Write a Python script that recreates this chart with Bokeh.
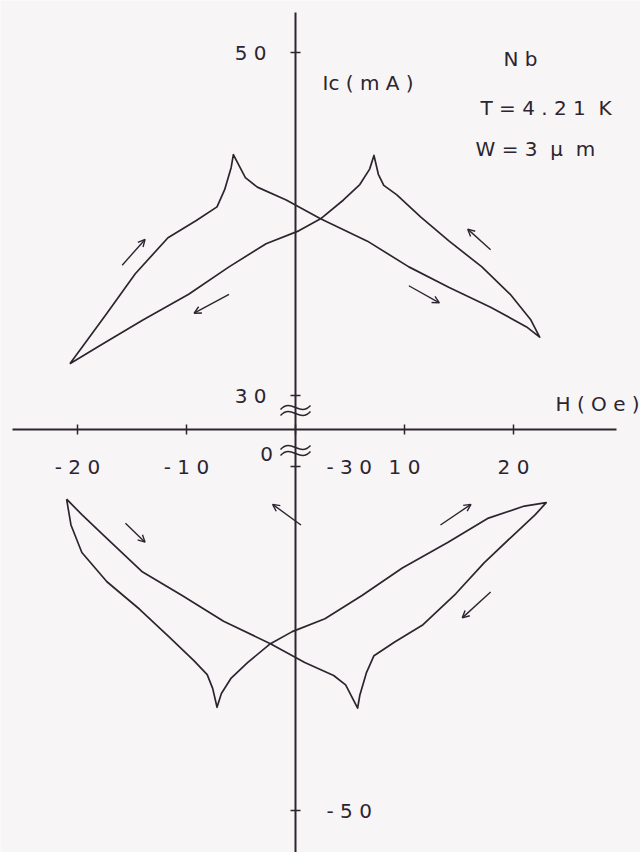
from bokeh.plotting import figure
from bokeh.models import Range1d, LinearAxis, FixedTicker, Arrow, OpenHead, Label, ColumnDataSource
from bokeh.embed import file_html
from bokeh.resources import INLINE

# ---------------- data: Ic(H) of a Nb strip, T = 4.21 K, W = 3 um ----------------
# positive-current loop: left tip -> left peak -> right tip -> right peak -> left tip
UPPER_H = [-20.7, -19.6, -17.3, -14.7, -11.7, -9.1, -7.2, -6.5, -5.9, -5.7,
           -4.6, -3.5, -0.85, 2.3, 6.6, 10.4, 14.1, 17.9, 21.2, 22.4,
           21.6, 19.7, 17.1, 14.1, 11.5, 9.3, 8.1, 7.6, 7.2,
           6.8, 5.9, 4.4, 2.3, 0.3, -2.7, -6.1, -9.8, -14.0, -17.7, -20.7]
UPPER_IC = [31.85, 32.8, 34.8, 37.1, 39.2, 40.2, 41.0, 42.0, 43.3, 44.05,
            42.7, 42.15, 41.4, 40.3, 39.0, 37.5, 36.3, 35.15, 34.0, 33.4,
            34.4, 35.9, 37.5, 39.0, 40.4, 41.7, 42.25, 42.9, 44.0,
            43.2, 42.3, 41.4, 40.3, 39.6, 38.85, 37.5, 35.9, 34.4, 33.0, 31.85]

# negative-current loop: left tip -> left dip -> right tip -> right dip -> left tip
LOWER_H = [-21.0, -20.6, -19.6, -17.3, -14.3, -11.6, -9.3, -8.1, -7.6, -7.2,
           -6.8, -5.9, -4.4, -2.3, -0.3, 2.7, 6.1, 9.8, 14.0, 17.7, 21.0, 23.0,
           22.0, 19.8, 17.3, 14.7, 11.7, 9.1, 7.2, 6.5, 5.9, 5.7,
           4.6, 3.5, 0.85, -2.3, -6.6, -10.4, -14.1, -17.6, -19.6, -21.0]
LOWER_IC = [-31.9, -33.4, -35.0, -36.7, -38.3, -39.9, -41.3, -42.1, -42.9, -44.0,
            -43.2, -42.3, -41.4, -40.3, -39.6, -38.85, -37.5, -35.9, -34.4, -33.0, -32.3, -32.1,
            -32.8, -34.1, -35.6, -37.4, -39.2, -40.2, -41.0, -42.0, -43.3, -44.05,
            -42.7, -42.15, -41.4, -40.3, -39.0, -37.5, -36.1, -34.0, -32.8, -31.9]

# sweep-direction arrows (start H, start Ic, end H, end Ic)
UP_ARROW_H0 = [-15.9, -6.1, 10.4, 17.9]
UP_ARROW_I0 = [37.6, 35.9, 36.4, 38.5]
UP_ARROW_H1 = [-13.8, -9.3, 13.2, 15.8]
UP_ARROW_I1 = [39.1, 34.8, 35.4, 39.7]
LO_ARROW_H0 = [-15.6, 0.5, 13.3, 17.9]
LO_ARROW_I0 = [-33.3, -33.4, -33.4, -37.3]
LO_ARROW_H1 = [-13.8, -2.1, 16.1, 15.3]
LO_ARROW_I1 = [-34.4, -32.2, -32.2, -38.8]

H_TICKS = [-20, -10, 0, 10, 20]
H_TICK_LABELS = ["- 2 0", "- 1 0", "", "1 0", "2 0"]
UPPER_TICKS = [30, 50]
UPPER_TICK_LABELS = ["3 0", "5 0"]
LOWER_TICKS = [-50, -30]
LOWER_TICK_LABELS = ["- 5 0", "- 3 0"]

# ---------------- layout ----------------
W, HT = 640, 852
X_ZERO_PX, PX_PER_OE = 295, 10.9
H_AXIS_PX = 429
INK = "#2c2530"
BG = "#f8f5f6"
FONT = "DejaVu Sans"
FS = "20px"
NBSP = "\u00a0"


def vrange(v1, p1, v2, p2):
    """Range whose value v1 sits p1 px from the top and v2 sits p2 px from the top."""
    k = (v1 - v2) / (p2 - p1)
    return Range1d(v1 - (HT - p1) * k, v1 + p1 * k)


def at_px(rng, px):
    k = (rng.end - rng.start) / HT
    return rng.end - px * k


upper_range = vrange(50, 52, 30, 395)
lower_range = vrange(-30, 466, -50, 810)
x_range = Range1d(-X_ZERO_PX / PX_PER_OE, (W - X_ZERO_PX) / PX_PER_OE)
base_range = Range1d(-(HT - H_AXIS_PX), H_AXIS_PX)   # pixel units, 0 on the field axis


def sx(px):
    return (px - X_ZERO_PX) / PX_PER_OE


def sy(px):
    return H_AXIS_PX - px


p = figure(width=W, height=HT, x_range=x_range, y_range=base_range,
           x_axis_type=None, y_axis_type=None, output_backend="svg",
           toolbar_location=None, min_border=0, outline_line_color=None,
           background_fill_color=BG, border_fill_color=BG)
p.extra_y_ranges = {"upper": upper_range, "lower": lower_range}


def style(ax, standoff):
    ax.axis_line_color = INK
    ax.axis_line_width = 2
    ax.major_tick_line_color = INK
    ax.major_tick_line_width = 1.5
    ax.major_tick_in = 5
    ax.major_tick_out = 5
    ax.minor_tick_line_color = None
    ax.major_label_text_font = FONT
    ax.major_label_text_font_size = FS
    ax.major_label_text_color = INK
    ax.major_label_standoff = standoff


xaxis = LinearAxis(ticker=FixedTicker(ticks=H_TICKS, minor_ticks=[]), fixed_location=0,
                   bounds=(sx(12), sx(616)),
                   major_label_overrides=dict(zip(H_TICKS, H_TICK_LABELS)))
style(xaxis, 20)
p.add_layout(xaxis, "below")

yaxis_up = LinearAxis(y_range_name="upper", ticker=FixedTicker(ticks=UPPER_TICKS, minor_ticks=[]),
                      fixed_location=0, bounds=(at_px(upper_range, H_AXIS_PX), at_px(upper_range, 12)),
                      major_label_overrides=dict(zip(UPPER_TICKS, UPPER_TICK_LABELS)))
style(yaxis_up, 24)
p.add_layout(yaxis_up, "left")

yaxis_lo = LinearAxis(y_range_name="lower", ticker=FixedTicker(ticks=LOWER_TICKS, minor_ticks=[]),
                      fixed_location=0, bounds=(at_px(lower_range, HT), at_px(lower_range, H_AXIS_PX)),
                      major_label_overrides=dict(zip(LOWER_TICKS, LOWER_TICK_LABELS)))
style(yaxis_lo, 26)
p.add_layout(yaxis_lo, "right")

# axis-break marks on the current axis
for centre_px in (410, 450):
    for off in (-3, 3):
        yc = sy(centre_px) + off
        p.bezier(x0=sx(X_ZERO_PX - 15), y0=yc - 2, x1=sx(X_ZERO_PX + 15), y1=yc + 2,
                 cx0=sx(X_ZERO_PX - 4), cy0=yc + 10, cx1=sx(X_ZERO_PX + 4), cy1=yc - 10,
                 line_color=INK, line_width=1.6)

# the two Ic(H) loops
p.line(UPPER_H, UPPER_IC, y_range_name="upper", line_color=INK, line_width=1.7, line_join="round")
p.line(LOWER_H, LOWER_IC, y_range_name="lower", line_color=INK, line_width=1.7, line_join="round")

for rname, h0, i0, h1, i1 in (("upper", UP_ARROW_H0, UP_ARROW_I0, UP_ARROW_H1, UP_ARROW_I1),
                              ("lower", LO_ARROW_H0, LO_ARROW_I0, LO_ARROW_H1, LO_ARROW_I1)):
    src = ColumnDataSource(dict(x0=h0, y0=i0, x1=h1, y1=i1))
    p.add_layout(Arrow(source=src, x_start="x0", y_start="y0", x_end="x1", y_end="y1",
                       y_range_name=rname, line_color=INK, line_width=1.4,
                       end=OpenHead(size=7, line_color=INK, line_width=1.4)))

# text annotations
for txt, px_x, px_y, align in (("Ic ( m A )", 322, 82, "left"),
                               ("N b", 503, 58, "left"),
                               ("T = 4 . 2 1 " + NBSP + "K", 480, 107, "left"),
                               ("W = 3 " + NBSP + "μ " + NBSP + "m", 475, 148, "left"),
                               ("H ( O e )", 555, 403, "left"),
                               ("0", 266, 453, "center")):
    p.add_layout(Label(x=sx(px_x), y=sy(px_y), text=txt, text_font=FONT, text_font_size=FS,
                       text_color=INK, text_align=align, text_baseline="middle"))

open("out.html", "w").write(file_html(p, INLINE))
